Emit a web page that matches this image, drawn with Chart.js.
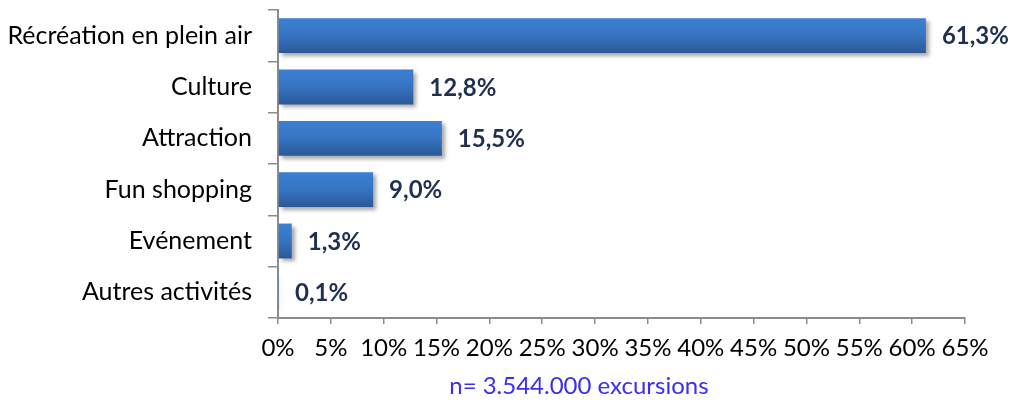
<!DOCTYPE html>
<html>
<head>
<meta charset="utf-8">
<script src="https://cdn.jsdelivr.net/npm/chart.js@4.4.0/dist/chart.umd.min.js"></script>
<style>
  html, body { margin: 0; padding: 0; background: #fff; }
  #wrap { width: 1012px; height: 403px; }
</style>
</head>
<body>
<div id="wrap"><canvas id="chart" width="1012" height="403"></canvas></div>
<script>
// data
const categories = ['Récréation en plein air', 'Culture', 'Attraction', 'Fun shopping', 'Evénement', 'Autres activités'];
const shares = [61.3, 12.8, 15.5, 9.0, 1.3, 0.1];
const footnote = 'n= 3.544.000 excursions';

const FONT = 'Lato, "Open Sans", sans-serif';
const BAR_PCT = 0.68;

function barFill(context) {
    const chart = context.chart;
    const y = chart.scales.y;
    if (!chart.chartArea || !y) return '#3470bb';
    const center = y.getPixelForValue(context.dataIndex);
    const half = (chart.chartArea.height / categories.length) * BAR_PCT / 2;
    const g = chart.ctx.createLinearGradient(0, center - half, 0, center + half);
    g.addColorStop(0, '#3c7fd2');
    g.addColorStop(0.5, '#3674c2');
    g.addColorStop(1, '#2b5896');
    return g;
}

const shadowPlugin = {
    id: 'barShadow',
    beforeDatasetDraw(chart) {
        const ctx = chart.ctx;
        ctx.save();
        ctx.shadowColor = 'rgba(0,0,0,0.35)';
        ctx.shadowBlur = 4;
        ctx.shadowOffsetX = 3;
        ctx.shadowOffsetY = 3;
    },
    afterDatasetDraw(chart) {
        chart.ctx.restore();
    }
};

const valueLabels = {
    id: 'valueLabels',
    afterDatasetsDraw(chart) {
        const ctx = chart.ctx;
        const meta = chart.getDatasetMeta(0);
        ctx.save();
        ctx.font = 'bold 24px ' + FONT;
        ctx.fillStyle = '#1f3050';
        ctx.textAlign = 'left';
        ctx.textBaseline = 'middle';
        meta.data.forEach((bar, i) => {
            ctx.fillText(shares[i].toFixed(1).replace('.', ',') + '%', bar.x + 16, bar.y + 1);
        });
        ctx.restore();
    }
};

const footnotePlugin = {
    id: 'footnote',
    afterDraw(chart) {
        const ctx = chart.ctx;
        const a = chart.chartArea;
        ctx.save();
        ctx.font = '24px ' + FONT;
        ctx.fillStyle = '#3a2ff0';
        ctx.textAlign = 'center';
        ctx.textBaseline = 'middle';
        ctx.fillText(footnote, a.left + a.width * 0.438, 386);
        ctx.restore();
    }
};

new Chart(document.getElementById('chart').getContext('2d'), {
    type: 'bar',
    data: {
        labels: categories,
        datasets: [{
            data: shares,
            backgroundColor: barFill,
            borderWidth: 0,
            categoryPercentage: 1,
            barPercentage: BAR_PCT
        }]
    },
    options: {
        indexAxis: 'y',
        responsive: false,
        animation: false,
        layout: { padding: { top: 10, right: 47, bottom: 0, left: 0 } },
        plugins: { legend: { display: false }, tooltip: { enabled: false } },
        scales: {
            x: {
                min: 0,
                max: 65,
                ticks: {
                    stepSize: 5,
                    callback: v => v + '%',
                    color: '#000',
                    font: { family: FONT, size: 24 },
                    padding: 10,
                    maxRotation: 0,
                    autoSkip: false
                },
                grid: { display: true, drawOnChartArea: false, tickLength: 6, color: '#8c8c8c', lineWidth: 1.5 },
                border: { color: '#8c8c8c', width: 2 },
                afterFit(scale) { scale.height = 85; }
            },
            y: {
                ticks: {
                    color: '#000',
                    font: { family: FONT, size: 25 },
                    padding: 16
                },
                grid: { display: true, offset: true, drawOnChartArea: false, tickLength: 10, color: '#8c8c8c', lineWidth: 1.5 },
                border: { color: '#8c8c8c', width: 2 },
                afterFit(scale) {
                    scale.width = 278;
                    scale.paddingTop = 0;
                    scale.paddingBottom = 0;
                }
            }
        }
    },
    plugins: [shadowPlugin, valueLabels, footnotePlugin]
});
</script>
</body>
</html>
